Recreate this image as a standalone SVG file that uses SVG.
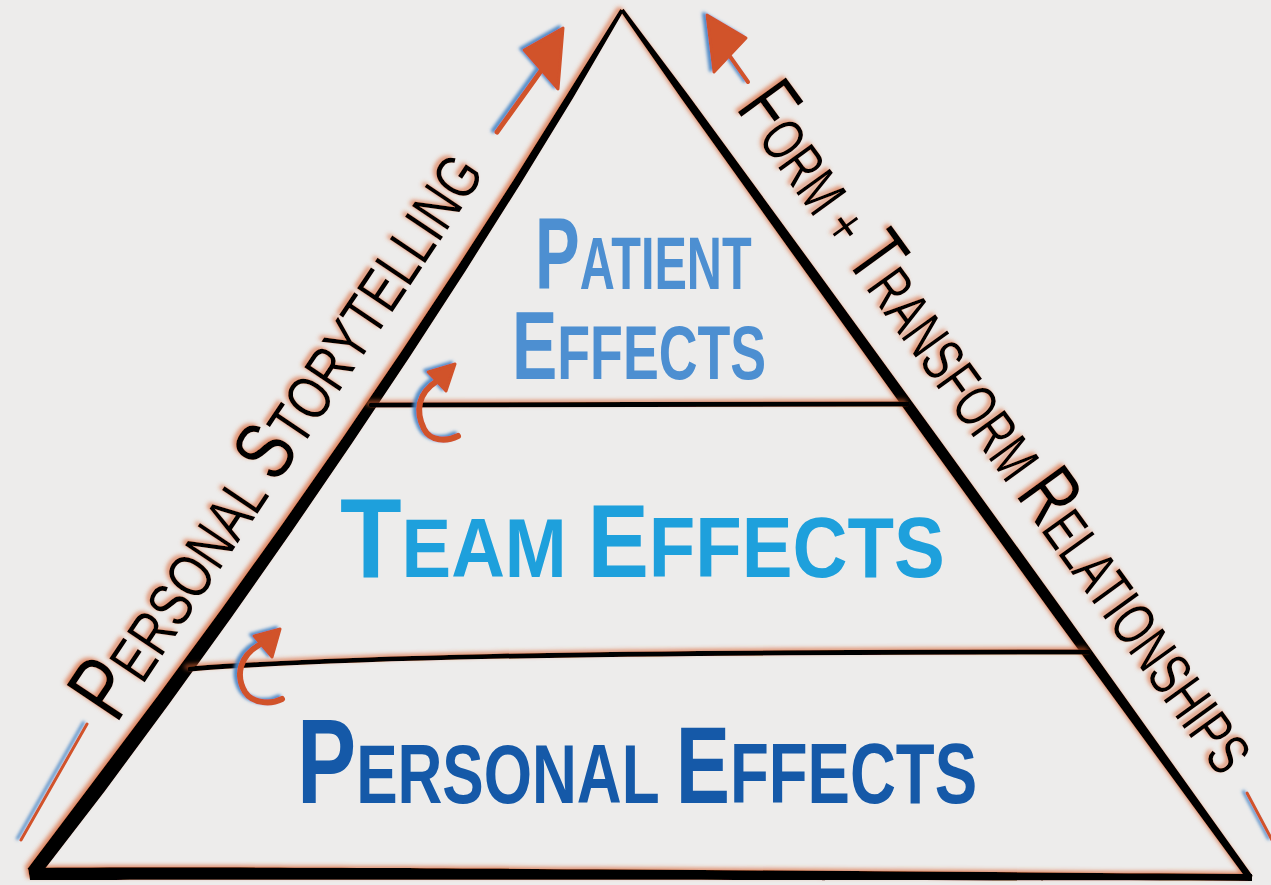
<svg xmlns="http://www.w3.org/2000/svg" width="1271" height="885" viewBox="0 0 1271 885">
  <defs>
    <filter id="orangeGlow" x="-10%" y="-10%" width="120%" height="120%">
      <feDropShadow dx="-3" dy="-2" stdDeviation="2" flood-color="#d8602f" flood-opacity="0.7"/>
    </filter>
    <filter id="blueGlow" x="-20%" y="-20%" width="140%" height="140%">
      <feDropShadow dx="-3.5" dy="-1.5" stdDeviation="1.5" flood-color="#4a86c6" flood-opacity="0.95"/>
    </filter>
    <style>
      .ink { fill: #000; }
      .rule { fill: none; stroke: #000; stroke-width: 5; stroke-linecap: round; }
      .side { font-family: "Liberation Sans", Arial, sans-serif; fill: #000; }
      .tier { font-family: "Liberation Sans", Arial, sans-serif; font-weight: bold; }
      .arrow { stroke: #d1522a; fill: none; stroke-linecap: round; stroke-linejoin: round; }
      .head { fill: #d1522a; stroke: #d1522a; stroke-width: 3; stroke-linejoin: round; }
    </style>
  </defs>

  <rect x="0" y="0" width="1271" height="885" fill="#edeceb"/>

  <g id="pyramid" filter="url(#orangeGlow)">
    <polygon class="ink" points="623.7,11 573.1,97.9 520.1,184.4 465.5,270.9 409.3,357.5 351.5,444.1 292.2,530.8 231.4,617.5 168.9,704.2 104.9,791 38.5,877.3 27.5,868.7 92.9,782 157.6,695.9 220.8,609.9 282.4,523.9 342.5,437.9 401,352 457.9,266 513.3,180.2 567.1,94.3 620.3,9"/>
    <polygon class="ink" points="623.6,8.8 688,94.5 814.5,267.5 940.5,440.8 1066.1,614.4 1159.4,745.2 1252.8,876 1247.2,880 1152.2,750.4 1057.1,620.8 931.5,447.2 806.4,273.3 681.6,99.1 620.4,11.2"/>
    <path class="ink" d="M28,868 C200,866 600,869 1252,874 L1252,881 C600,879 200,880 30,880 Z"/>
  </g>

  <g id="dividers" filter="url(#orangeGlow)">
    <path class="rule" d="M371,405 L907,404"/>
    <path class="rule" d="M190,669 C330,658 560,652 1088,652"/>
  </g>

  <g id="label-personal-storytelling" filter="url(#orangeGlow)">
    <text class="side" transform="translate(116,725) rotate(-56.2) scale(0.775,1)" x="0" y="0"><tspan font-size="92">P</tspan><tspan font-size="62">ERSONAL </tspan><tspan font-size="84">S</tspan><tspan font-size="62">TORYTELLING</tspan></text>
  </g>

  <g id="label-form-transform" filter="url(#orangeGlow)">
    <text class="side" transform="translate(735,108) rotate(54.1) scale(0.71,1)" x="0" y="0"><tspan font-size="86">F</tspan><tspan font-size="60">ORM + </tspan><tspan font-size="84">T</tspan><tspan font-size="60">RANSFORM </tspan><tspan font-size="84">R</tspan><tspan font-size="60">ELATIONSHIPS</tspan></text>
  </g>

  <g id="tier-patient">
    <text class="tier" fill="#4d8fd1" transform="translate(535,289) scale(0.657,1)" x="0" y="0"><tspan font-size="102">P</tspan><tspan font-size="74">ATIENT</tspan></text>
    <text class="tier" fill="#4d8fd1" transform="translate(512,379) scale(0.707,1)" x="0" y="0"><tspan font-size="96">E</tspan><tspan font-size="76">FFECTS</tspan></text>
  </g>

  <g id="tier-team">
    <text class="tier" fill="#1ea0dc" transform="translate(340,577) scale(0.885,1)" x="0" y="0"><tspan font-size="114">T</tspan><tspan font-size="84">EAM </tspan><tspan font-size="104">E</tspan><tspan font-size="86">FFECTS</tspan></text>
  </g>

  <g id="tier-personal">
    <text class="tier" fill="#1559a8" transform="translate(297,803) scale(0.739,1)" x="0" y="0"><tspan font-size="120">P</tspan><tspan font-size="84">ERSONAL </tspan><tspan font-size="110">E</tspan><tspan font-size="86">FFECTS</tspan></text>
  </g>

  <g id="connectors" filter="url(#blueGlow)">
    <line class="arrow" stroke-width="5" x1="497" y1="132" x2="543" y2="68"/>
    <polygon class="head" points="524,50 563,28 558,89"/>
    <line class="arrow" stroke-width="4" x1="748" y1="82" x2="724" y2="48"/>
    <polygon class="head" points="707,15 746,38 714,72"/>
    <line class="arrow" stroke-width="3" x1="87" y1="724" x2="21" y2="840"/>
    <line class="arrow" stroke-width="3" x1="1247" y1="793" x2="1272" y2="840"/>
    <path class="arrow" stroke-width="6" d="M458,436 C446,442 430,441 424,429 C415,411 418,393 437,381"/>
    <polygon class="head" points="428,372 455,364 446,391"/>
    <path class="arrow" stroke-width="6" d="M282,699 C270,705 252,703 245,692 C235,675 240,656 259,645"/>
    <polygon class="head" points="254,636 280,629 272,657"/>
  </g>
</svg>
